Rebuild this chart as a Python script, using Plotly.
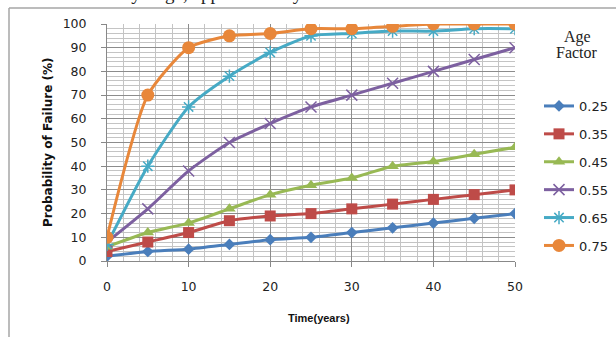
import plotly.graph_objects as go

years = [0, 5, 10, 15, 20, 25, 30, 35, 40, 45, 50]
age_factors = ["0.25", "0.35", "0.45", "0.55", "0.65", "0.75"]
p_025 = [2, 4, 5, 7, 9, 10, 12, 14, 16, 18, 20]
p_035 = [4, 8, 12, 17, 19, 20, 22, 24, 26, 28, 30]
p_045 = [6, 12, 16, 22, 28, 32, 35, 40, 42, 45, 48]
p_055 = [8, 22, 38, 50, 58, 65, 70, 75, 80, 85, 90]
p_065 = [7, 40, 65, 78, 88, 95, 96, 97, 97, 98, 98]
p_075 = [10, 70, 90, 95, 96, 98, 98, 99, 100, 100, 100]
series = [p_025, p_035, p_045, p_055, p_065, p_075]

colors = ["#4A7EBB", "#BE4B48", "#98B954", "#7D60A0", "#46AAC5", "#E8873A"]
symbols = ["diamond", "square", "triangle-up", "x-thin-open", "asterisk-open", "circle"]
sizes = [9, 11, 11, 11, 11, 13]

# plot area in pixels
L, R, T, B = 107, 515, 24, 261
W, H = 616, 337
def px(x):
    return (x - L) / (R - L)
def py(y):
    return (B - y) / (B - T)

fig = go.Figure()
for name, vals, c, s, sz in zip(age_factors, series, colors, symbols, sizes):
    mk = dict(symbol=s, size=sz, color=c)
    if s.endswith("open"):
        mk["line"] = dict(width=1.5, color=c)
    fig.add_trace(go.Scatter(
        x=years, y=vals, name=name, mode="lines+markers",
        line=dict(color=c, width=3, shape="spline", smoothing=0.6),
        marker=mk, legendgroup=name,
    ))

axis_common = dict(
    showline=True, linecolor="#888888", linewidth=1,
    ticks="outside", ticklen=5, tickcolor="#888888",
    showgrid=True, gridcolor="#8C8C8C", gridwidth=1,
    zeroline=False,
    tickfont=dict(family="DejaVu Sans", size=12.5, color="#222222"),
)

fig.update_xaxes(
    range=[0, 50], dtick=10, tick0=0,
    minor=dict(dtick=2, showgrid=True, gridcolor="#C4C4C4", gridwidth=1),
    ticklabelstandoff=9,
    **axis_common,
)
fig.update_yaxes(
    range=[0, 100], dtick=10, tick0=0,
    minor=dict(dtick=2, showgrid=True, gridcolor="#C4C4C4", gridwidth=1),
    ticklabelstandoff=12,
    **axis_common,
)

fig.update_layout(
    width=W, height=H,
    margin=dict(l=L, r=W - R, t=T, b=H - B, pad=0, autoexpand=False),
    paper_bgcolor="white", plot_bgcolor="white",
    showlegend=True,
    legend=dict(
        x=px(539), y=py(91), xanchor="left", yanchor="top",
        font=dict(family="DejaVu Sans", size=13, color="#222222"),
        tracegroupgap=8, itemwidth=30, bgcolor="rgba(0,0,0,0)",
    ),
    annotations=[
        dict(text="Age", x=px(577), y=py(37), xref="paper", yref="paper",
             showarrow=False, xanchor="center", yanchor="middle",
             font=dict(family="Liberation Serif", size=16, color="#222222")),
        dict(text="Factor", x=px(577), y=py(53), xref="paper", yref="paper",
             showarrow=False, xanchor="center", yanchor="middle",
             font=dict(family="Liberation Serif", size=16, color="#222222")),
        dict(text="<b>Time(years)</b>", x=px(319), y=py(318), xref="paper", yref="paper",
             showarrow=False, xanchor="center", yanchor="middle",
             font=dict(family="Liberation Sans", size=11, color="#111111")),
        dict(text="<b>Probability of Failure (%)</b>", x=px(48), y=py(142), xref="paper",
             yref="paper", showarrow=False, textangle=-90, xanchor="center",
             yanchor="middle",
             font=dict(family="DejaVu Sans", size=12, color="#111111")),
        dict(text="be extremely large, approximately 5 to 10", x=px(40), y=py(6),
             xref="paper", yref="paper", showarrow=False, xanchor="left",
             yanchor="bottom",
             font=dict(family="Liberation Serif", size=19, color="#222222")),
    ],
    shapes=[
        dict(type="line", xref="paper", yref="paper", x0=px(9), x1=px(9),
             y0=py(8), y1=py(345), line=dict(color="#A6A6A6", width=1.5)),
        dict(type="line", xref="paper", yref="paper", x0=px(9), x1=px(625),
             y0=py(8), y1=py(8), line=dict(color="#A6A6A6", width=1.5)),
    ],
)

fig.write_html("out.html")
